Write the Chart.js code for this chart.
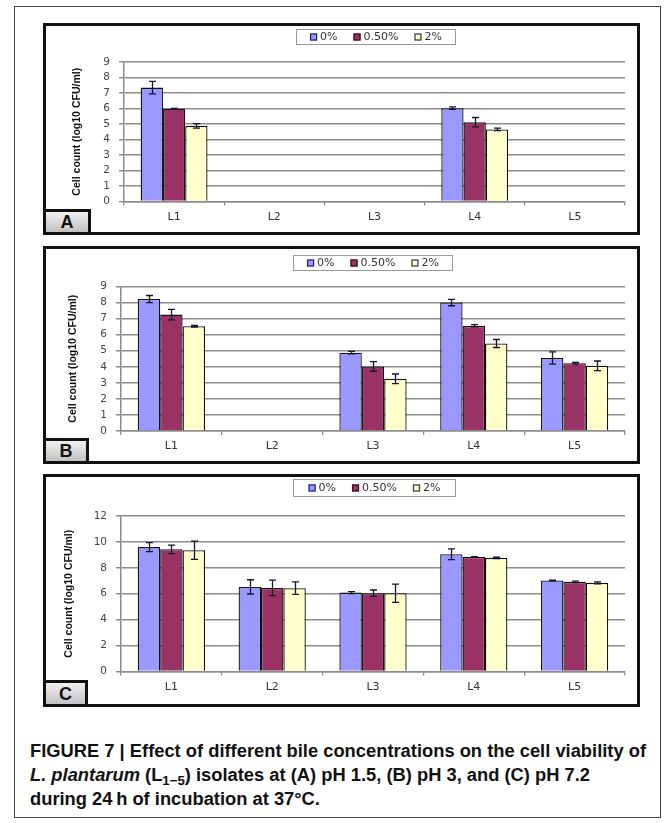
<!DOCTYPE html>
<html>
<head>
<meta charset="utf-8">
<script src="https://cdn.jsdelivr.net/npm/chart.js@4.4.1/dist/chart.umd.min.js"></script>
<style>
  html, body { margin: 0; padding: 0; background: #fff; }
  body { width: 669px; height: 823px; position: relative; overflow: hidden; }
  .outer { position: absolute; left: 14px; top: 6px; width: 647px; height: 812px; border: 1px solid #444; box-sizing: border-box; }
  .panel { position: absolute; left: 43px; width: 597px; border: 3px solid #111; box-sizing: border-box; background: #fff; }
  canvas { position: absolute; left: 0; }
  .tag { position: absolute; left: 43px; border: 3px solid #111; box-sizing: border-box;
         background: linear-gradient(#f0f0f0, #c2c2c2); font: bold 18px 'Liberation Sans', Arial, sans-serif;
         color: #111; display: flex; align-items: center; justify-content: center; padding-top: 1px; }
  .caption { position: absolute; left: 30px; top: 739px; white-space: nowrap; color: #111;
             font: bold 18px/24px 'Liberation Sans', Arial, sans-serif; }
  .caption .ln { display: inline-block; transform-origin: 0 50%; }
  .caption sub { font-size: 13px; vertical-align: -4px; line-height: 0; }
</style>
</head>
<body>
<div class="outer"></div>
<div class="panel" style="top:23px;height:212px"></div>
<div class="panel" style="top:246px;height:218px"></div>
<div class="panel" style="top:474px;height:233px"></div>
<canvas id="chartA" width="669" height="212" style="top:23px"></canvas>
<canvas id="chartB" width="669" height="218" style="top:246px"></canvas>
<canvas id="chartC" width="669" height="233" style="top:474px"></canvas>
<div class="tag" style="top:209px;width:48px;height:26px">A</div>
<div class="tag" style="top:438px;width:46px;height:26px">B</div>
<div class="tag" style="top:680px;width:45px;height:27px">C</div>
<div class="caption">
  <span class="ln" id="capFirst">FIGURE 7 | Effect of different bile concentrations on the cell viability of</span><br>
  <span class="ln"><i>L. plantarum</i> (L<sub>1−5</sub>) isolates at (A) pH 1.5, (B) pH 3, and (C) pH 7.2</span><br>
  <span class="ln">during 24&#8201;h of incubation at 37°C.</span>
</div>

<script>
// Isolates on the x axis and bile concentrations as series
const categories = ['L1', 'L2', 'L3', 'L4', 'L5'];
const seriesLabels = ['0%', '0.50%', '2%'];
const axisTitle = 'Cell count (log10 CFU/ml)';

// (A) pH 1.5 — mean log10 CFU/ml and error (±)
const phA_bile0   = [7.35, null, null, 6.02, null];
const phA_bile05  = [5.98, null, null, 5.12, null];
const phA_bile2   = [4.88, null, null, 4.65, null];
const phA_err0    = [0.40, null, null, 0.08, null];
const phA_err05   = [0.03, null, null, 0.30, null];
const phA_err2    = [0.15, null, null, 0.08, null];

// (B) pH 3
const phB_bile0   = [8.22, null, 4.88, 8.00, 4.55];
const phB_bile05  = [7.25, null, 4.02, 6.55, 4.22];
const phB_bile2   = [6.52, null, 3.25, 5.45, 4.06];
const phB_err0    = [0.22, null, 0.08, 0.20, 0.38];
const phB_err05   = [0.33, null, 0.30, 0.07, 0.06];
const phB_err2    = [0.05, null, 0.30, 0.25, 0.30];

// (C) pH 7.2
const phC_bile0   = [9.60, 6.53, 6.09, 9.05, 7.02];
const phC_bile05  = [9.43, 6.45, 6.04, 8.84, 6.92];
const phC_bile2   = [9.36, 6.43, 6.04, 8.77, 6.84];
const phC_err0    = [0.35, 0.55, 0.08, 0.42, 0.03];
const phC_err05   = [0.33, 0.60, 0.25, 0.03, 0.06];
const phC_err2    = [0.70, 0.48, 0.70, 0.05, 0.07];

// y-axis tick ranges
const yTicksAB = { max: 9, step: 1 };
const yTicksC  = { max: 12, step: 2 };

const fills   = ['#9999ff', '#993366', '#ffffcc'];
const swatchEdges = ['#1f1f7a', '#3a0f22', '#333333'];
const GRID = '#8c8c8c';
const TICK_FONT = { family: "'DejaVu Sans', Verdana, sans-serif", size: 10.5 };

// Condense the caption to the width of the figure frame
(function fitCaption() {
  const first = document.getElementById('capFirst');
  const k = 616 / first.getBoundingClientRect().width;
  document.querySelectorAll('.caption .ln').forEach(el => { el.style.transform = `scaleX(${k})`; });
})();

// Vertical error bars with caps, drawn from each dataset's `errors`
const errorBars = {
  id: 'errorBars',
  afterDatasetsDraw(chart) {
    const { ctx } = chart;
    const y = chart.scales.y;
    ctx.save();
    ctx.strokeStyle = '#151530';
    ctx.lineWidth = 1.3;
    chart.data.datasets.forEach((ds, i) => {
      const meta = chart.getDatasetMeta(i);
      meta.data.forEach((bar, j) => {
        const v = ds.data[j], e = ds.errors[j];
        if (v == null || e == null) return;
        const x = Math.round(bar.x) + 0.5;
        const yTop = y.getPixelForValue(v + e);
        const yBot = y.getPixelForValue(v - e);
        ctx.beginPath();
        ctx.moveTo(x, yTop); ctx.lineTo(x, yBot);
        ctx.moveTo(x - 3.5, yTop); ctx.lineTo(x + 3.5, yTop);
        ctx.moveTo(x - 3.5, yBot); ctx.lineTo(x + 3.5, yBot);
        ctx.stroke();
      });
    });
    ctx.restore();
  }
};

// Boxed legend centred in a fixed frame near the top of each panel
const boxedLegend = {
  id: 'boxedLegend',
  afterDraw(chart, args, opts) {
    const { ctx } = chart;
    const [x1, y1, x2, y2] = opts.frame;
    ctx.save();
    ctx.fillStyle = '#fff';
    ctx.fillRect(x1, y1, x2 - x1, y2 - y1);
    ctx.strokeStyle = '#9a9a9a';
    ctx.lineWidth = 1;
    ctx.strokeRect(x1 + 0.5, y1 + 0.5, x2 - x1 - 1, y2 - y1 - 1);
    ctx.font = `11px ${TICK_FONT.family}`;
    ctx.textBaseline = 'middle';
    const sw = 7, gapIn = 3, gapOut = 16;
    const items = chart.data.datasets.map((ds, i) => ({ label: ds.label, fill: ds.backgroundColor, edge: swatchEdges[i], w: ctx.measureText(ds.label).width }));
    const total = items.reduce((s, it) => s + sw + gapIn + it.w, 0) + gapOut * (items.length - 1);
    let x = (x1 + x2) / 2 - total / 2;
    const cy = (y1 + y2) / 2;
    items.forEach(it => {
      ctx.fillStyle = it.fill;
      ctx.fillRect(x, cy - sw / 2, sw, sw);
      ctx.strokeStyle = it.edge;
      ctx.lineWidth = 1.2;
      ctx.strokeRect(x + 0.5, cy - sw / 2 + 0.5, sw - 1, sw - 1);
      ctx.fillStyle = '#333';
      ctx.fillText(it.label, x + sw + gapIn, cy + 0.5);
      x += sw + gapIn + it.w + gapOut;
    });
    ctx.restore();
  }
};

function makeChart(id, series, errs, ticks, geom) {
  const datasets = series.map((data, i) => ({
    label: seriesLabels[i],
    data,
    errors: errs[i],
    backgroundColor: fills[i],
    borderColor: '#111',
    borderWidth: 1.3,
    categoryPercentage: 0.667,
    barPercentage: 1.0
  }));
  return new Chart(document.getElementById(id), {
    type: 'bar',
    data: { labels: categories, datasets },
    plugins: [errorBars, boxedLegend],
    options: {
      responsive: false,
      animation: false,
      devicePixelRatio: 1,
      layout: { padding: { left: 0, top: geom.top, right: 669 - geom.right, bottom: 0 } },
      plugins: {
        legend: { display: false },
        tooltip: { enabled: false },
        boxedLegend: { frame: geom.legend }
      },
      scales: {
        x: {
          offset: true,
          grid: { offset: true, drawOnChartArea: false, drawTicks: true, tickLength: 4, color: GRID, lineWidth: 1.3 },
          border: { display: true, color: GRID, width: 1.5 },
          ticks: { font: { ...TICK_FONT, size: 11 }, color: '#333', padding: 5, maxRotation: 0 },
          afterFit(scale) { scale.height = geom.xh; }
        },
        y: {
          min: 0, max: ticks.max,
          grid: { color: GRID, lineWidth: 1.5, tickLength: 5, drawTicks: true },
          border: { display: true, color: GRID, width: 1.5 },
          ticks: { stepSize: ticks.step, autoSkip: false, font: TICK_FONT, color: '#444', padding: 9 },
          title: {
            display: true, text: axisTitle, color: '#111',
            font: { family: "'Liberation Sans', Arial, sans-serif", size: 10.5, weight: 'bold' },
            padding: { top: geom.titleX - 6.3, bottom: 0 }
          },
          afterFit(scale) { scale.width = geom.left; }
        }
      }
    }
  });
}

makeChart('chartA', [phA_bile0, phA_bile05, phA_bile2], [phA_err0, phA_err05, phA_err2], yTicksAB,
  { left: 124, right: 625, top: 39, xh: 33.5, titleX: 77, legend: [296, 6, 456, 22] });
makeChart('chartB', [phB_bile0, phB_bile05, phB_bile2], [phB_err0, phB_err05, phB_err2], yTicksAB,
  { left: 121, right: 625, top: 40.5, xh: 33, titleX: 73, legend: [293, 9, 453, 25] });
makeChart('chartC', [phC_bile0, phC_bile05, phC_bile2], [phC_err0, phC_err05, phC_err2], yTicksC,
  { left: 121, right: 625, top: 42, xh: 35.5, titleX: 69, legend: [293, 5, 456, 23] });
</script>
</body>
</html>
